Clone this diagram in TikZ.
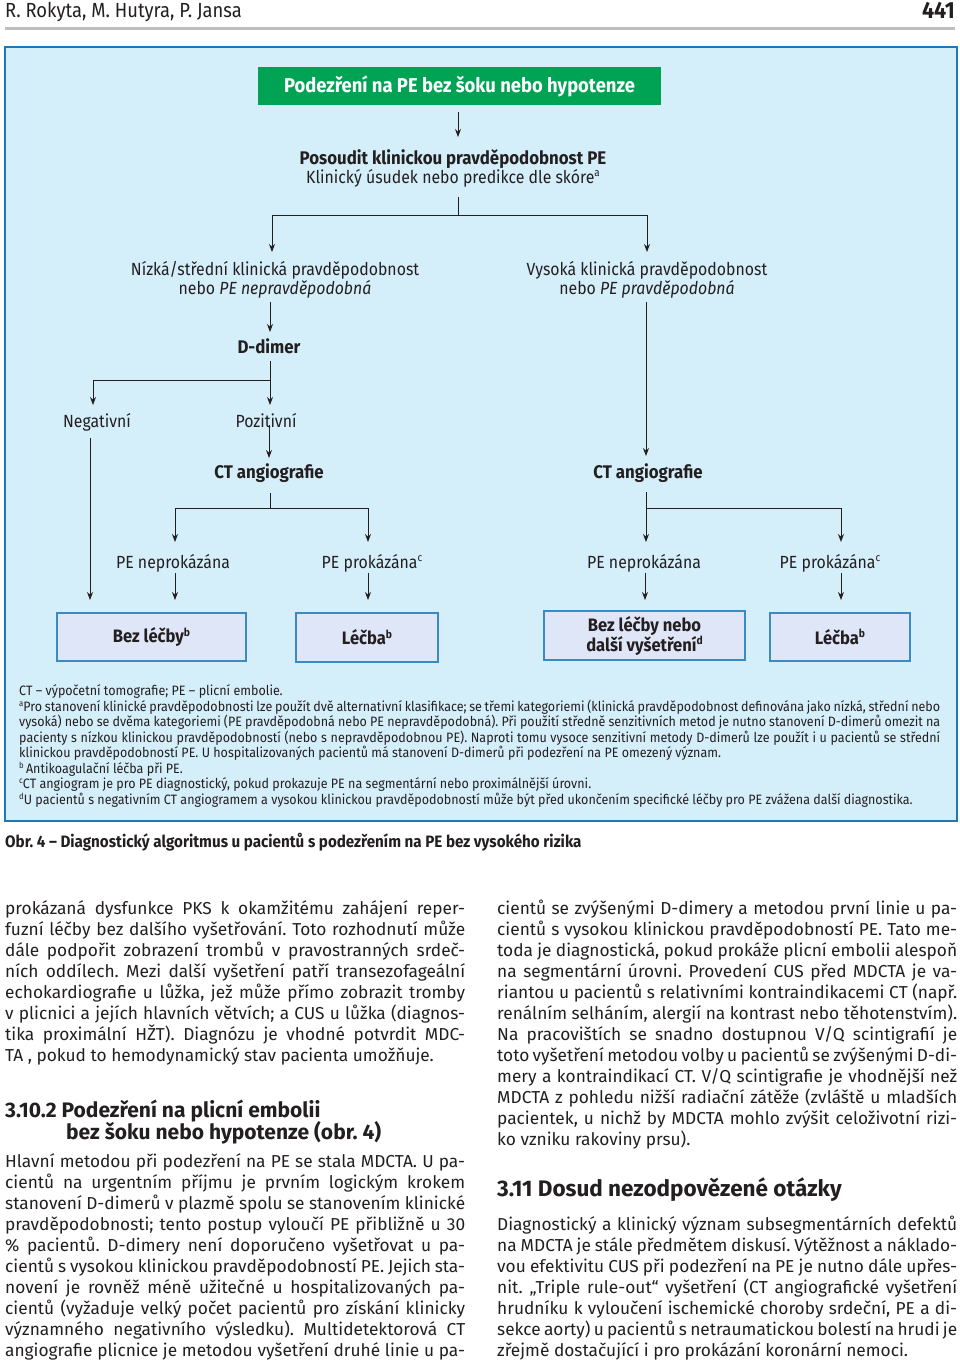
\documentclass[tikz,border=0pt]{standalone}
\usepackage{fontspec}
\setmainfont{Fira Sans}
\newfontfamily\cf[FakeStretch=0.9]{Fira Sans}
\newfontfamily\cfb[FakeStretch=0.92]{Fira Sans}
\newfontfamily\fnf[FakeStretch=0.92]{Fira Sans}
\usetikzlibrary{arrows.meta}
\definecolor{boxblue}{RGB}{212,238,250}
\definecolor{frameblue}{RGB}{30,120,182}
\definecolor{titlegreen}{RGB}{0,163,84}
\definecolor{leafblue}{RGB}{223,230,247}
\definecolor{leafframe}{RGB}{58,140,192}
\definecolor{ink}{RGB}{35,31,32}
\definecolor{rulegray}{RGB}{190,190,190}
\frenchspacing
\newcommand\jl[1]{{\spaceskip=0.24em plus 1em minus 0.08em\makebox[460pt][s]{#1}}}
\newcommand\jf[1]{{\spaceskip=0.24em plus 1em minus 0.08em\makebox[921pt][s]{#1}}}
\newcommand\sups[1]{\raisebox{0.36em}{\scalebox{0.62}{#1}}}
\begin{document}
\begin{tikzpicture}[x=1pt,y=-1pt,
  lbl/.style={inner sep=0pt, text=ink, text height=12.5pt, text depth=0pt, font=\cf\fontsize{17.6}{20}\selectfont},
  blbl/.style={lbl, font=\cfb\bfseries\fontsize{18.3}{20}\selectfont},
  conn/.style={draw=ink, line width=0.9pt},
  arr/.style={conn, -{Stealth[length=8pt,width=6pt]}},
  leaf/.style={draw=leafframe, fill=leafblue, line width=1.3pt, inner sep=0pt, text=ink, align=center, font=\cfb\bfseries\fontsize{18}{19}\selectfont},
  fn/.style={inner sep=0pt, anchor=base west, text=ink, font=\fnf\fontsize{13.6}{15}\selectfont},
  body/.style={inner sep=0pt, anchor=base west, text=ink, font=\fontsize{17.3}{21}\selectfont},
  head/.style={inner sep=0pt, anchor=base west, text=ink, font=\bfseries\fontsize{21}{22}\selectfont},
]
\useasboundingbox (0,0) rectangle (960,1361);
\fill[white] (0,0) rectangle (960,1361);

% running head
\node[anchor=west, inner sep=0pt, text=ink, text height=13pt, text depth=0pt, font=\cf\fontsize{20.4}{22}\selectfont] (auth) at (5,11) {R. Rokyta, M. Hutyra, P. Jansa};
\node[anchor=east, inner sep=0pt, text=ink, text height=15pt, text depth=0pt, font=\cfb\bfseries\fontsize{23.4}{24}\selectfont] (page) at (955,11) {441};
\draw[rulegray, line width=3pt] (5,28) -- (955,28);

% frame
\draw[frameblue, fill=boxblue, line width=2.5pt] (5,47) rectangle (957,821);

% title
\node[fill=titlegreen, minimum width=403pt, minimum height=38pt, inner sep=0pt, text=white, font=\cfb\bfseries\fontsize{20}{22}\selectfont] (title) at (459.5,86) {Podezření na PE bez šoku nebo hypotenze};

\node[blbl] (ass1) at (453,158) {Posoudit klinickou pravděpodobnost PE};
\node[lbl] (ass2) at (453,177) {Klinický úsudek nebo predikce dle skóre\sups{a}};

\node[lbl] (low1) at (275,269) {Nízká/střední klinická pravděpodobnost};
\node[lbl] (low2) at (275,288) {nebo \textit{PE nepravděpodobná}};
\node[lbl] (high1) at (647,269) {Vysoká klinická pravděpodobnost};
\node[lbl] (high2) at (647,288) {nebo \textit{PE pravděpodobná}};

\node[blbl] (ddim) at (269,347) {D-dimer};
\node[lbl] (neg) at (97,421) {Negativní};
\node[lbl] (poz) at (266,421) {Pozitivní};
\node[blbl] (ct1) at (269,472) {CT angiografie};
\node[blbl] (ct2) at (648,472) {CT angiografie};
\node[lbl] (pn1) at (173,562) {PE neprokázána};
\node[lbl] (pp1) at (372,562) {PE prokázána\sups{c}};
\node[lbl] (pn2) at (644,562) {PE neprokázána};
\node[lbl] (pp2) at (830,562) {PE prokázána\sups{c}};

\node[leaf, minimum width=189pt, minimum height=48pt] (b1) at (151.5,637) {Bez léčby\sups{b}};
\node[leaf, minimum width=142pt, minimum height=49pt] (b2) at (367,637.5) {Léčba\sups{b}};
\node[leaf, minimum width=201pt, minimum height=49pt] (b3) at (644.5,635.5) {Bez léčby nebo\\další vyšetření\sups{d}};
\node[leaf, minimum width=140pt, minimum height=48pt] (b4) at (840,637) {Léčba\sups{b}};

% junction coordinates
\coordinate (c0a) at (458,112); \coordinate (c0b) at (458,137);
\coordinate (c1a) at (458,197); \coordinate (c1j) at (458,215);
\coordinate (c1l) at (272,215); \coordinate (c1r) at (647,215);
\coordinate (c1le) at (272,252); \coordinate (c1re) at (647,252);
\coordinate (c2a) at (270,302); \coordinate (c2b) at (270,332);
\coordinate (c3a) at (270,361); \coordinate (c3j) at (270,380);
\coordinate (c3l) at (93,380); \coordinate (c3le) at (93,405); \coordinate (c3re) at (270,405);
\coordinate (c4a) at (269,425); \coordinate (c4b) at (269,458);
\coordinate (c5a) at (90,438); \coordinate (c5b) at (90,600);
\coordinate (c6a) at (270,493); \coordinate (c6j) at (270,508);
\coordinate (c6l) at (175,508); \coordinate (c6r) at (368,508);
\coordinate (c6le) at (175,542); \coordinate (c6re) at (368,542);
\coordinate (c7a) at (175,573); \coordinate (c7b) at (175,600);
\coordinate (c8a) at (368,573); \coordinate (c8b) at (368,600);
\coordinate (c9a) at (646,302); \coordinate (c9b) at (646,456);
\coordinate (c10a) at (646,492); \coordinate (c10j) at (646,508);
\coordinate (c10r) at (841,508);
\coordinate (c10le) at (646,542); \coordinate (c10re) at (841,542);
\coordinate (c11a) at (645,573); \coordinate (c11b) at (645,600);
\coordinate (c12a) at (841,573); \coordinate (c12b) at (841,600);

\draw[arr] (c0a) -- (c0b);
\draw[conn] (c1a) -- (c1j);
\draw[conn] (c1l) -- (c1r);
\draw[arr] (c1l) -- (c1le);
\draw[arr] (c1r) -- (c1re);
\draw[arr] (c2a) -- (c2b);
\draw[conn] (c3a) -- (c3j);
\draw[conn] (c3l) -- (c3j);
\draw[arr] (c3l) -- (c3le);
\draw[arr] (c3j) -- (c3re);
\draw[arr] (c4a) -- (c4b);
\draw[arr] (c5a) -- (c5b);
\draw[conn] (c6a) -- (c6j);
\draw[conn] (c6l) -- (c6r);
\draw[arr] (c6l) -- (c6le);
\draw[arr] (c6r) -- (c6re);
\draw[arr] (c7a) -- (c7b);
\draw[arr] (c8a) -- (c8b);
\draw[arr] (c9a) -- (c9b);
\draw[conn] (c10a) -- (c10j);
\draw[conn] (c10j) -- (c10r);
\draw[arr] (c10j) -- (c10le);
\draw[arr] (c10r) -- (c10re);
\draw[arr] (c11a) -- (c11b);
\draw[arr] (c12a) -- (c12b);

% footnotes
\node[fn] (f1) at (19,695) {CT – výpočetní tomografie; PE – plicní embolie.};
\node[fn] (f2) at (19,711) {\jf{\sups{a}Pro stanovení klinické pravděpodobnosti lze použít dvě alternativní klasifikace; se třemi kategoriemi (klinická pravděpodobnost definována jako nízká, střední nebo}};
\node[fn] (f3) at (19,726.5) {\jf{vysoká) nebo se dvěma kategoriemi (PE pravděpodobná nebo PE nepravděpodobná). Při použití středně senzitivních metod je nutno stanovení D-dimerů omezit na}};
\node[fn] (f4) at (19,742) {\jf{pacienty s nízkou klinickou pravděpodobností (nebo s nepravděpodobnou PE). Naproti tomu vysoce senzitivní metody D-dimerů lze použít i u pacientů se střední}};
\node[fn] (f5) at (19,757.5) {klinickou pravděpodobností PE. U hospitalizovaných pacientů má stanovení D-dimerů při podezření na PE omezený význam.};
\node[fn] (f6) at (19,773) {\sups{b}\,Antikoagulační léčba při PE.};
\node[fn] (f7) at (19,788.5) {\sups{c}CT angiogram je pro PE diagnostický, pokud prokazuje PE na segmentární nebo proximálnější úrovni.};
\node[fn] (f8) at (19,804) {\sups{d}U pacientů s negativním CT angiogramem a vysokou klinickou pravděpodobností může být před ukončením specifické léčby pro PE zvážena další diagnostika.};

% caption
\node[inner sep=0pt, anchor=base west, text=ink, font=\cfb\bfseries\fontsize{16.5}{20}\selectfont] (cap) at (5,847) {Obr. 4 – Diagnostický algoritmus u pacientů s podezřením na PE bez vysokého rizika};

% left column
\node[body] (l1) at (5,914) {\jl{prokázaná dysfunkce PKS k okamžitému zahájení reper-}};
\node[body] (l2) at (5,935) {\jl{fuzní léčby bez dalšího vyšetřování. Toto rozhodnutí může}};
\node[body] (l3) at (5,956) {\jl{dále podpořit zobrazení trombů v pravostranných srdeč-}};
\node[body] (l4) at (5,977) {\jl{ních oddílech. Mezi další vyšetření patří transezofageální}};
\node[body] (l5) at (5,998) {\jl{echokardiografie u lůžka, jež může přímo zobrazit tromby}};
\node[body] (l6) at (5,1019) {\jl{v plicnici a jejích hlavních větvích; a CUS u lůžka (diagnos-}};
\node[body] (l7) at (5,1040) {\jl{tika proximální HŽT). Diagnózu je vhodné potvrdit MDC-}};
\node[body] (l8) at (5,1061) {TA , pokud to hemodynamický stav pacienta umožňuje.};

\node[head] (h1a) at (5,1117) {3.10.2 Podezření na plicní embolii};
\node[head] (h1b) at (66,1139) {bez šoku nebo hypotenze (obr. 4)};

\node[body] (m1) at (5,1167) {\jl{Hlavní metodou při podezření na PE se stala MDCTA. U pa-}};
\node[body] (m2) at (5,1188) {\jl{cientů na urgentním příjmu je prvním logickým krokem}};
\node[body] (m3) at (5,1209) {\jl{stanovení D-dimerů v plazmě spolu se stanovením klinické}};
\node[body] (m4) at (5,1230) {\jl{pravděpodobnosti; tento postup vyloučí PE přibližně u 30}};
\node[body] (m5) at (5,1251) {\jl{\% pacientů. D-dimery není doporučeno vyšetřovat u pa-}};
\node[body] (m6) at (5,1272) {\jl{cientů s vysokou klinickou pravděpodobností PE. Jejich sta-}};
\node[body] (m7) at (5,1293) {\jl{novení je rovněž méně užitečné u hospitalizovaných pa-}};
\node[body] (m8) at (5,1314) {\jl{cientů (vyžaduje velký počet pacientů pro získání klinicky}};
\node[body] (m9) at (5,1335) {\jl{významného negativního výsledku). Multidetektorová CT}};
\node[body] (m10) at (5,1356) {\jl{angiografie plicnice je metodou vyšetření druhé linie u pa-}};

% right column
\node[body] (r1) at (497,914) {\jl{cientů se zvýšenými D-dimery a metodou první linie u pa-}};
\node[body] (r2) at (497,935) {\jl{cientů s vysokou klinickou pravděpodobností PE. Tato me-}};
\node[body] (r3) at (497,956) {\jl{toda je diagnostická, pokud prokáže plicní embolii alespoň}};
\node[body] (r4) at (497,977) {\jl{na segmentární úrovni. Provedení CUS před MDCTA je va-}};
\node[body] (r5) at (497,998) {\jl{riantou u pacientů s relativními kontraindikacemi CT (např.}};
\node[body] (r6) at (497,1019) {\jl{renálním selháním, alergií na kontrast nebo těhotenstvím).}};
\node[body] (r7) at (497,1040) {\jl{Na pracovištích se snadno dostupnou V/Q scintigrafií je}};
\node[body] (r8) at (497,1061) {\jl{toto vyšetření metodou volby u pacientů se zvýšenými D-di-}};
\node[body] (r9) at (497,1082) {\jl{mery a kontraindikací CT. V/Q scintigrafie je vhodnější než}};
\node[body] (r10) at (497,1103) {\jl{MDCTA z pohledu nižší radiační zátěže (zvláště u mladších}};
\node[body] (r11) at (497,1124) {\jl{pacientek, u nichž by MDCTA mohlo zvýšit celoživotní rizi-}};
\node[body] (r12) at (497,1145) {ko vzniku rakoviny prsu).};

\node[head, font=\bfseries\fontsize{22.5}{24}\selectfont] (h2) at (497,1196) {3.11 Dosud nezodpovězené otázky};

\node[body] (s1) at (497,1230) {\jl{Diagnostický a klinický význam subsegmentárních defektů}};
\node[body] (s2) at (497,1251) {\jl{na MDCTA je stále předmětem diskusí. Výtěžnost a náklado-}};
\node[body] (s3) at (497,1272) {\jl{vou efektivitu CUS při podezření na PE je nutno dále upřes-}};
\node[body] (s4) at (497,1293) {\jl{nit. „Triple rule-out“ vyšetření (CT angiografické vyšetření}};
\node[body] (s5) at (497,1314) {\jl{hrudníku k vyloučení ischemické choroby srdeční, PE a di-}};
\node[body] (s6) at (497,1335) {\jl{sekce aorty) u pacientů s netraumatickou bolestí na hrudi je}};
\node[body] (s7) at (497,1356) {zřejmě dostačující i pro prokázání koronární nemoci.};
\end{tikzpicture}
\end{document}
